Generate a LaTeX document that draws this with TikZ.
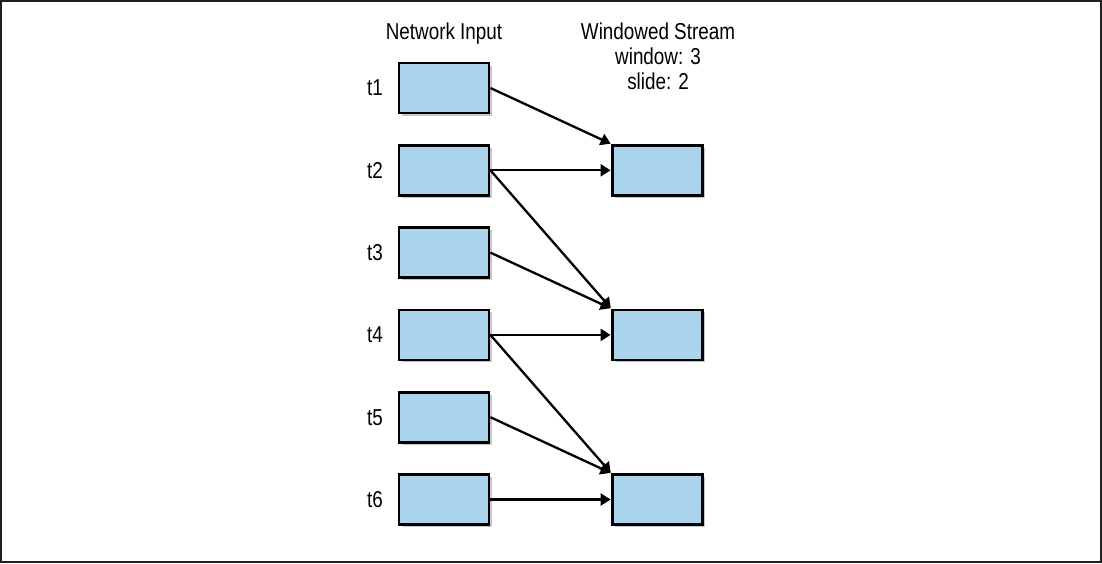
\documentclass[tikz,border=0pt]{standalone}
\usepackage{fontspec}
\setmainfont{Liberation Sans}[FakeStretch=0.82]
\usetikzlibrary{arrows.meta,shadows}
\definecolor{boxblue}{RGB}{171,211,236}
\definecolor{framegray}{RGB}{35,31,32}
\tikzset{
  inbox/.style={draw=black, line width=2.8pt, fill=boxblue, minimum width=90pt, minimum height=50pt, inner sep=0pt,
    drop shadow={shadow xshift=2.5pt, shadow yshift=-2.5pt, opacity=0.22, fill=black}},
  lbl/.style={font=\fontsize{23}{27}\selectfont, inner sep=0pt},
  conn/.style={line width=2.3pt, -{Triangle[length=10pt,width=12pt]}, shorten >=0.5pt}
}
\begin{document}
\begin{tikzpicture}[x=1pt,y=-1pt]
\useasboundingbox (0,0) rectangle (1102,563);
\draw[framegray, line width=2pt] (1,1) rectangle (1101,562);
% titles
\node[lbl, anchor=base] (tin) at (444,39.5) {Network Input};
\node[lbl, anchor=base] (tw1) at (658,39.5) {Windowed Stream};
\node[lbl, anchor=base] (tw2) at (658,64.5) {window: 3};
\node[lbl, anchor=base] (tw3) at (658,89.5) {slide: 2};
% input boxes
\foreach \i/\y in {1/88,2/170.3,3/252.6,4/334.9,5/417.2,6/499.5}{
  \node[inbox] (in\i) at (444,\y) {};
  \node[lbl, anchor=east] (lab\i) at (383,\y) {t\i};
}
% window boxes
\node[inbox] (w1) at (657.5,170.3) {};
\node[inbox] (w2) at (657.5,334.9) {};
\node[inbox] (w3) at (657.5,499.5) {};
% connectors
\draw[conn] (in1.east) -- (w1.north west);
\draw[conn] (in2.east) -- (w1.west);
\draw[conn] (in2.east) -- (w2.north west);
\draw[conn] (in3.east) -- (w2.north west);
\draw[conn] (in4.east) -- (w2.west);
\draw[conn] (in4.east) -- (w3.north west);
\draw[conn] (in5.east) -- (w3.north west);
\draw[conn] (in6.east) -- (w3.west);
\end{tikzpicture}
\end{document}
